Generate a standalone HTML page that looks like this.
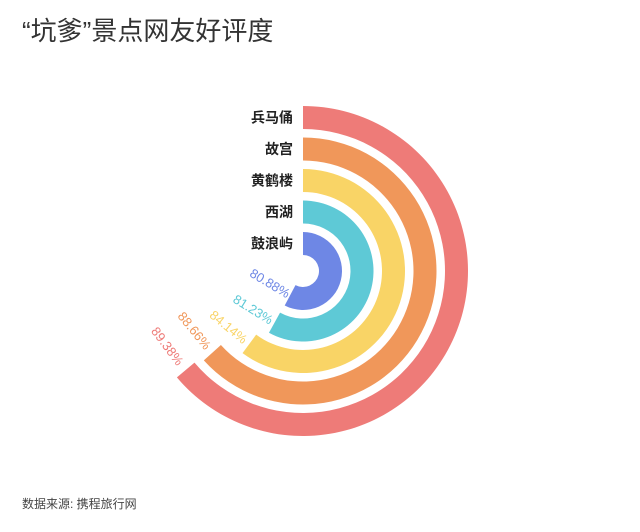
<!DOCTYPE html>
<html><head><meta charset="utf-8"><style>
body{margin:0;background:#fff;width:640px;height:527px;overflow:hidden;font-family:"Liberation Sans","Noto Sans CJK SC",sans-serif}
</style></head><body>
<svg width="640" height="527" xmlns="http://www.w3.org/2000/svg">
<text x="22" y="40" font-size="26" fill="#333" font-family="Liberation Sans, Noto Sans CJK SC, sans-serif">“坑爹”景点网友好评度</text>
<text x="22" y="508" font-size="12" fill="#444" font-family="Liberation Sans, Noto Sans CJK SC, sans-serif">数据来源: 携程旅行网</text>
<g id="rings"></g>
</svg>
<script>
const categories=["兵马俑","故宫","黄鹤楼","西湖","鼓浪屿"];
const values=[89.38,88.66,84.14,81.23,80.88];
const colors=["#ee7b78","#f0975a","#f9d466","#5ec9d6","#6e87e5"];
const maxValue=140;
const cx=303,cy=271,outerR=165,bandW=23,step=31.5;
const g=document.getElementById('rings');
const NS="http://www.w3.org/2000/svg";
function ang(v){return v/maxValue*360;}
function pt(r,a){const t=a*Math.PI/180;return [cx+r*Math.sin(t),cy-r*Math.cos(t)];}
categories.forEach((c,i)=>{
  const ro=outerR-i*step,ri=ro-bandW,a=ang(values[i]);
  const large=a>180?1:0;
  const p1=pt(ro,0),p2=pt(ro,a),p3=pt(ri,a),p4=pt(ri,0);
  const path=document.createElementNS(NS,'path');
  path.setAttribute('d',`M${p1[0]},${p1[1]} A${ro},${ro} 0 ${large} 1 ${p2[0]},${p2[1]} L${p3[0]},${p3[1]} A${ri},${ri} 0 ${large} 0 ${p4[0]},${p4[1]} Z`);
  path.setAttribute('fill',colors[i]);
  
  
  g.appendChild(path);
  const lab=document.createElementNS(NS,'text');
  lab.setAttribute('x',cx-10);lab.setAttribute('y',cy-(ro+ri)/2+5);
  lab.setAttribute('text-anchor','end');lab.setAttribute('font-size','14');lab.setAttribute('font-weight','bold');lab.setAttribute('fill','#222');
  lab.textContent=c;
  
  
  g.appendChild(lab);
  const rm=(ro+ri)/2,ta=a+3,tp=pt(rm,ta);
  const vl=document.createElementNS(NS,'text');
  vl.setAttribute('x',tp[0]);vl.setAttribute('y',tp[1]);
  vl.setAttribute('text-anchor','end');vl.setAttribute('dominant-baseline','central');
  vl.setAttribute('font-size','13');vl.setAttribute('fill',colors[i]);
  vl.setAttribute('transform',`rotate(${ta-180} ${tp[0]} ${tp[1]})`);
  vl.textContent=values[i].toFixed(2)+'%';
  
  
  g.appendChild(vl);
});
</script>
</body></html>
